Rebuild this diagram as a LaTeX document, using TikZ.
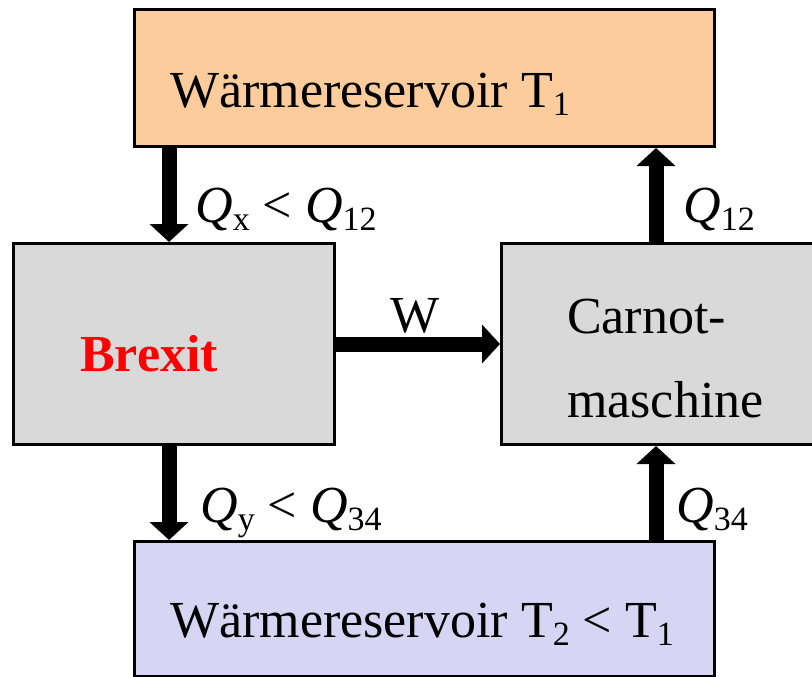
\documentclass[tikz,border=0pt]{standalone}
\usepackage{fontspec}
\setmainfont{Liberation Serif}
\usetikzlibrary{arrows.meta,positioning}
\definecolor{warmfill}{RGB}{252,204,156}
\definecolor{coldfill}{RGB}{214,214,244}
\definecolor{enginefill}{RGB}{217,217,217}
\newcommand{\subtxt}[1]{\raisebox{-0.17em}{\fontsize{34}{34}\selectfont #1}}

\begin{document}
\begin{tikzpicture}[x=1pt,y=-1pt,
  box/.style={draw,line width=3pt,inner sep=0pt,anchor=north west},
  txt/.style={inner sep=0pt,anchor=base west,font=\fontsize{52}{60}\selectfont},
  flow/.style={line width=15pt,-{Triangle[width=38pt,length=18pt]}}]
  \useasboundingbox (0,0) rectangle (812,677);
  \clip (0,0) rectangle (812,677);

  % boxes
  \node[box,fill=warmfill,minimum width=580pt,minimum height=137pt] (hot) at (133,8) {};
  \node[box,fill=enginefill,minimum width=321pt,minimum height=201pt] (brexit) at (12,242) {};
  \node[box,fill=enginefill,minimum width=330pt,minimum height=201pt] (carnot) at (500,242) {};
  \node[box,fill=coldfill,minimum width=580pt,minimum height=135pt] (cold) at (133,540) {};

  \coordinate (lx) at (169,0);
  \coordinate (rx) at (656,0);

  % texts
  \node[txt] (hottext) at (170,107) {Wärmereservoir T\subtxt{1}};
  \node[txt,anchor=base,font=\fontsize{52}{60}\selectfont\bfseries,text=red] (brexittext) at (149,371) {Brexit};
  \node[txt] (carnottop) at (567,333) {Carnot-};
  \node[txt] (carnotbot) at (567,417) {maschine};
  \node[txt] (coldtext) at (170,637) {Wärmereservoir T\subtxt{2} < T\subtxt{1}};

  % flows
  \draw[flow] (hot.south -| lx) -- (brexit.north -| lx);
  \draw[flow] (carnot.north -| rx) -- (hot.south -| rx);
  \draw[flow] (brexit.east) -- (carnot.west);
  \draw[flow] (brexit.south -| lx) -- (cold.north -| lx);
  \draw[flow] (cold.north -| rx) -- (carnot.south -| rx);

  \node[txt] (qx) at (195,222) {\textit{Q}\subtxt{x} < \textit{Q}\subtxt{12}};
  \node[txt] (q12) at (683,222) {\textit{Q}\subtxt{12}};
  \node[txt,anchor=base] (wlabel) at (415,332) {W};
  \node[txt] (qy) at (200,522) {\textit{Q}\subtxt{y} < \textit{Q}\subtxt{34}};
  \node[txt] (q34) at (676,522) {\textit{Q}\subtxt{34}};
\end{tikzpicture}
\end{document}
